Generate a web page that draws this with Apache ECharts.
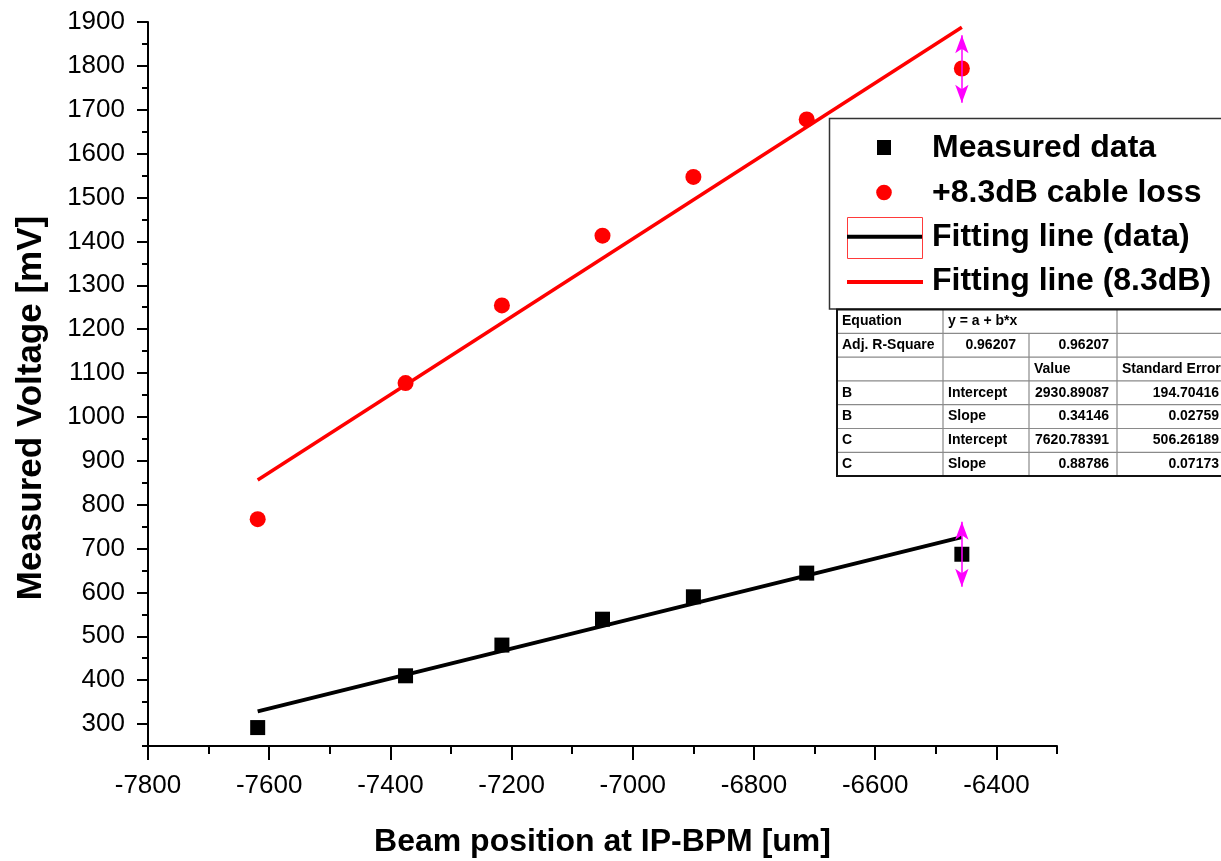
<!DOCTYPE html>
<html>
<head>
<meta charset="utf-8">
<script src="https://cdn.jsdelivr.net/npm/echarts@6/dist/echarts.min.js"></script>
<style>
  html, body { margin: 0; padding: 0; background: #fff; }
  #chart { width: 1221px; height: 861px; }
</style>
</head>
<body>
<div id="chart"></div>
<script>
// beam positions [um]
const beamPos = [-7619, -7375, -7216, -7050, -6900, -6713, -6457]
// measured voltage [mV]
const measured = [292, 410, 480, 539, 590, 644, 687]
// +8.3dB cable loss corrected [mV]
const cableLoss = [767, 1077, 1254, 1413, 1547, 1678, 1794]

// fitting lines, end points
const fitX = [-7619, -6457]
const fitData = [329, 726]
const fit83 = [856, 1888]

// magenta deviation arrows at last point
const arrowX = -6457
const arrowData = [613, 761]
const arrow83 = [1716, 1870]

// axis ticks
const xMajorTicks = [-7800, -7600, -7400, -7200, -7000, -6800, -6600, -6400]
const xMinorTicks = [-7700, -7500, -7300, -7100, -6900, -6700, -6500, -6300]
const yMajorTicks = [300, 400, 500, 600, 700, 800, 900, 1000, 1100, 1200, 1300, 1400, 1500, 1600, 1700, 1800, 1900]
const yMinorTicks = [250, 350, 450, 550, 650, 750, 850, 950, 1050, 1150, 1250, 1350, 1450, 1550, 1650, 1750, 1850]

const legendNames = ['Measured data', '+8.3dB cable loss', 'Fitting line (data)', 'Fitting line (8.3dB)']

// fit result table
const tableRows = [
  ['Equation', 'y = a + b*x', '', ''],
  ['Adj. R-Square', '0.96207', '0.96207', ''],
  ['', '', 'Value', 'Standard Error'],
  ['B', 'Intercept', '2930.89087', '194.70416'],
  ['B', 'Slope', '0.34146', '0.02759'],
  ['C', 'Intercept', '7620.78391', '506.26189'],
  ['C', 'Slope', '0.88786', '0.07173']
]

const FONT = '"Liberation Sans", Arial, sans-serif'

function pairs(xs, ys) {
  return xs.map((x, i) => [x, ys[i]])
}

function legendGraphic() {
  const rowY = [148, 193, 237, 281]
  const els = [
    { type: 'rect', shape: { x: 829.5, y: 118.5, width: 410, height: 190.5 },
      style: { fill: '#fff', stroke: '#333', lineWidth: 1.5 } },
    { type: 'rect', shape: { x: 877, y: 140, width: 14, height: 15 }, style: { fill: '#000' } },
    { type: 'circle', shape: { cx: 884, cy: 192.5, r: 7.8 }, style: { fill: '#ff0000' } },
    { type: 'rect', shape: { x: 847.5, y: 217.5, width: 75, height: 41 },
      style: { fill: null, stroke: '#ff3a3a', lineWidth: 1 } },
    { type: 'line', shape: { x1: 847, y1: 236.7, x2: 922, y2: 236.7 }, style: { stroke: '#000', lineWidth: 4 } },
    { type: 'line', shape: { x1: 847, y1: 282, x2: 923, y2: 282 }, style: { stroke: '#ff0000', lineWidth: 4 } }
  ]
  legendNames.forEach((name, i) => {
    els.push({
      type: 'text', x: 932, y: rowY[i],
      style: { text: name, fill: '#000', font: 'bold 32px ' + FONT, textVerticalAlign: 'middle' }
    })
  })
  return els
}

function tableGraphic() {
  const cols = [837, 943, 1029, 1117, 1227]
  const top = 309.5
  const rowH = 23.8
  const els = []
  els.push({ type: 'rect', shape: { x: cols[0], y: top, width: cols[4] - cols[0], height: rowH * tableRows.length },
    style: { fill: '#fff', stroke: null } })
  tableRows.forEach((row, r) => {
    const y0 = top + r * rowH
    if (r > 0) {
      els.push({ type: 'line', shape: { x1: cols[0], y1: y0, x2: cols[4], y2: y0 }, style: { stroke: '#8a8a8a', lineWidth: 1.2 } })
    }
    for (let c = 1; c < 4; c++) {
      if (r === 0 && c === 2) continue
      els.push({ type: 'line', shape: { x1: cols[c], y1: y0, x2: cols[c], y2: y0 + rowH }, style: { stroke: '#8a8a8a', lineWidth: 1.2 } })
    }
    row.forEach((txt, c) => {
      if (!txt) return
      const numeric = /^[0-9.]+$/.test(txt)
      const pad = c === 1 && numeric ? 13 : 8
      els.push({
        type: 'text',
        x: numeric ? cols[c + 1] - pad : cols[c] + 5,
        y: y0 + rowH / 2,
        style: { text: txt, fill: '#000', font: 'bold 14px ' + FONT,
          textAlign: numeric ? 'right' : 'left', textVerticalAlign: 'middle' }
      })
    })
  })
  els.push({ type: 'rect', shape: { x: cols[0], y: top, width: cols[4] - cols[0], height: rowH * tableRows.length },
    style: { fill: null, stroke: '#111', lineWidth: 2 } })
  return els
}

const chart = echarts.init(document.getElementById('chart'))

const axisLine = { show: true, lineStyle: { color: '#000', width: 2 } }
const plainNumber = v => String(v)

const option = {
  backgroundColor: '#fff',
  animation: false,
  grid: { left: 148, right: 164, top: 22, bottom: 115, containLabel: false, outerBoundsMode: 'none' },
  xAxis: [
    {
      type: 'value', min: -7800, max: -6300, position: 'bottom',
      axisLine: axisLine,
      axisTick: { show: true, inside: false, length: 14, customValues: xMajorTicks, lineStyle: { color: '#000', width: 2 } },
      axisLabel: { show: true, customValues: xMajorTicks, formatter: plainNumber, margin: 27, color: '#000', fontSize: 26, fontFamily: FONT },
      splitLine: { show: false },
      name: 'Beam position at IP-BPM [um]', nameLocation: 'middle', nameGap: 80,
      nameTextStyle: { color: '#000', fontSize: 32, fontWeight: 'bold', fontFamily: FONT }
    },
    {
      type: 'value', min: -7800, max: -6300, position: 'bottom', offset: 0,
      axisLine: { show: false },
      axisTick: { show: true, inside: false, length: 8, customValues: xMinorTicks, lineStyle: { color: '#000', width: 2 } },
      axisLabel: { show: false },
      splitLine: { show: false }
    }
  ],
  yAxis: [
    {
      type: 'value', min: 250, max: 1900, position: 'left',
      axisLine: axisLine,
      axisTick: { show: true, inside: false, length: 11, customValues: yMajorTicks, lineStyle: { color: '#000', width: 2 } },
      axisLabel: { show: true, customValues: yMajorTicks, formatter: plainNumber, margin: 23, color: '#000', fontSize: 26, fontFamily: FONT },
      splitLine: { show: false }
    },
    {
      type: 'value', min: 250, max: 1900, position: 'left', offset: 0,
      axisLine: { show: false },
      axisTick: { show: true, inside: false, length: 6, customValues: yMinorTicks, lineStyle: { color: '#000', width: 2 } },
      axisLabel: { show: false },
      splitLine: { show: false }
    }
  ],
  series: [
    {
      name: 'Fitting line (data)', type: 'line', data: pairs(fitX, fitData),
      symbol: 'none', lineStyle: { color: '#000', width: 4 }, z: 2
    },
    {
      name: 'Fitting line (8.3dB)', type: 'line', data: pairs(fitX, fit83),
      symbol: 'none', lineStyle: { color: '#ff0000', width: 3.5 }, z: 2
    },
    {
      name: 'Measured data', type: 'scatter', data: pairs(beamPos, measured),
      symbol: 'rect', symbolSize: 15, itemStyle: { color: '#000', opacity: 1 }, z: 3
    },
    {
      name: '+8.3dB cable loss', type: 'scatter', data: pairs(beamPos, cableLoss),
      symbol: 'circle', symbolSize: 16, itemStyle: { color: '#ff0000', opacity: 1 }, z: 3
    },
    {
      name: 'arrows', type: 'line', data: [], z: 4,
      markLine: {
        silent: true, animation: false,
        symbol: ['arrow', 'arrow'], symbolSize: [10, 18],
        lineStyle: { color: '#ff00ff', width: 1.5, type: 'solid' },
        label: { show: false },
        data: [
          [{ coord: [arrowX, arrowData[0]] }, { coord: [arrowX, arrowData[1]] }],
          [{ coord: [arrowX, arrow83[0]] }, { coord: [arrowX, arrow83[1]] }]
        ]
      }
    }
  ],
  graphic: [
    {
      type: 'text', x: 31, y: 408, rotation: Math.PI / 2,
      style: { text: 'Measured Voltage [mV]', fill: '#000', font: 'bold 35px ' + FONT,
        textAlign: 'center', textVerticalAlign: 'middle' }
    },
    ...legendGraphic(),
    ...tableGraphic()
  ]
}

chart.setOption(option)
</script>
</body>
</html>
